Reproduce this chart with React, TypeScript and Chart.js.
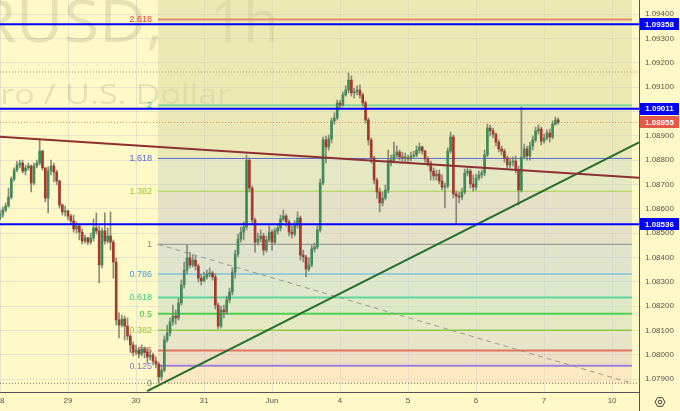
import React, { useEffect, useRef } from 'react';
import { Chart, registerables } from 'chart.js';
Chart.register(...registerables);

// ---------- axis data ----------
const dayTicks = [0, 24, 48, 72, 96, 120, 144, 168, 192, 216];
const dayLabels = ['28', '29', '30', '31', 'Jun', '4', '5', '6', '7', '10'];
const priceTicks = [1.079, 1.08, 1.081, 1.082, 1.083, 1.084, 1.085, 1.086, 1.087, 1.088, 1.089, 1.09, 1.091, 1.092, 1.093, 1.094];
const X_MIN = 0;
const X_MAX = 225.5;
const Y_MIN = 1.07847;
const Y_MAX = 1.09458;

// ---------- hourly candles (EUR/USD 1h) ----------
const firstOpen = 1.08562;
const closes = [
  1.08578, 1.08595, 1.08611, 1.08648, 1.08722, 1.08759, 1.08780, 1.08788, 1.08755, 1.08768, 1.08776, 1.08706,
  1.08776, 1.08788, 1.08837, 1.08768, 1.08644, 1.08755, 1.08776, 1.08751, 1.08714, 1.08615, 1.08587, 1.08591,
  1.08570, 1.08550, 1.08517, 1.08529, 1.08504, 1.08467, 1.08480, 1.08463, 1.08480, 1.08521, 1.08509, 1.08369,
  1.08509, 1.08467, 1.08488, 1.08463, 1.08381, 1.08143, 1.08122, 1.08147, 1.08118, 1.08077, 1.08040, 1.08011,
  1.08019, 1.08003, 1.08024, 1.08011, 1.07991, 1.07999, 1.07974, 1.07962, 1.07909, 1.07937, 1.08061, 1.08089,
  1.08135, 1.08159, 1.08151, 1.08213, 1.08287, 1.08348, 1.08398, 1.08369, 1.08389, 1.08365, 1.08315, 1.08303,
  1.08320, 1.08332, 1.08336, 1.08320, 1.08204, 1.08118, 1.08184, 1.08176, 1.08225, 1.08258, 1.08340, 1.08414,
  1.08476, 1.08504, 1.08525, 1.08800, 1.08685, 1.08554, 1.08463, 1.08476, 1.08488, 1.08430, 1.08472, 1.08504,
  1.08463, 1.08509, 1.08521, 1.08558, 1.08570, 1.08546, 1.08504, 1.08496, 1.08533, 1.08562, 1.08410, 1.08402,
  1.08352, 1.08369, 1.08435, 1.08443, 1.08513, 1.08706, 1.08883, 1.08854, 1.08887, 1.08961, 1.08973, 1.09035,
  1.09026, 1.09068, 1.09088, 1.09129, 1.09076, 1.09080, 1.09088, 1.09068, 1.09035, 1.08965, 1.08883, 1.08809,
  1.08718, 1.08669, 1.08624, 1.08644, 1.08677, 1.08800, 1.08796, 1.08821, 1.08833, 1.08813, 1.08809, 1.08809,
  1.08805, 1.08817, 1.08821, 1.08841, 1.08854, 1.08837, 1.08805, 1.08788, 1.08755, 1.08735, 1.08743, 1.08714,
  1.08689, 1.08694, 1.08837, 1.08895, 1.08661, 1.08652, 1.08648, 1.08669, 1.08747, 1.08755, 1.08702, 1.08689,
  1.08726, 1.08739, 1.08747, 1.08821, 1.08932, 1.08920, 1.08907, 1.08874, 1.08846, 1.08837, 1.08809, 1.08780,
  1.08792, 1.08796, 1.08759, 1.08677, 1.08813, 1.08846, 1.08817, 1.08858, 1.08883, 1.08920, 1.08928, 1.08878,
  1.08891, 1.08911, 1.08895, 1.08948, 1.08965, 1.08955,
];
const highs = [
  1.08595, 1.08607, 1.08624, 1.08685, 1.08731, 1.08768, 1.08796, 1.08800, 1.08800, 1.08780, 1.08788, 1.08780,
  1.08788, 1.08800, 1.08887, 1.08841, 1.08768, 1.08772, 1.08800, 1.08788, 1.08759, 1.08718, 1.08620, 1.08611,
  1.08595, 1.08578, 1.08574, 1.08546, 1.08537, 1.08517, 1.08492, 1.08484, 1.08500, 1.08558, 1.08583, 1.08529,
  1.08521, 1.08583, 1.08521, 1.08587, 1.08472, 1.08398, 1.08172, 1.08163, 1.08159, 1.08151, 1.08085, 1.08052,
  1.08040, 1.08028, 1.08040, 1.08032, 1.08028, 1.08019, 1.08007, 1.07991, 1.07970, 1.07958, 1.08077, 1.08122,
  1.08151, 1.08204, 1.08184, 1.08233, 1.08307, 1.08381, 1.08451, 1.08422, 1.08410, 1.08406, 1.08373, 1.08332,
  1.08340, 1.08348, 1.08357, 1.08344, 1.08332, 1.08213, 1.08200, 1.08204, 1.08241, 1.08274, 1.08357, 1.08430,
  1.08496, 1.08525, 1.08546, 1.08821, 1.08809, 1.08694, 1.08562, 1.08500, 1.08513, 1.08500, 1.08488, 1.08529,
  1.08513, 1.08521, 1.08533, 1.08574, 1.08595, 1.08578, 1.08554, 1.08529, 1.08550, 1.08587, 1.08570, 1.08430,
  1.08410, 1.08398, 1.08451, 1.08459, 1.08529, 1.08722, 1.08895, 1.08899, 1.08903, 1.08973, 1.08994, 1.09047,
  1.09047, 1.09080, 1.09105, 1.09158, 1.09146, 1.09096, 1.09105, 1.09109, 1.09076, 1.09043, 1.08973, 1.08891,
  1.08817, 1.08726, 1.08685, 1.08669, 1.08698, 1.08841, 1.08821, 1.08874, 1.08858, 1.08841, 1.08833, 1.08829,
  1.08821, 1.08833, 1.08837, 1.08858, 1.08870, 1.08858, 1.08841, 1.08813, 1.08796, 1.08768, 1.08759, 1.08759,
  1.08739, 1.08706, 1.08850, 1.08915, 1.08903, 1.08673, 1.08669, 1.08685, 1.08763, 1.08772, 1.08763, 1.08739,
  1.08743, 1.08755, 1.08759, 1.08841, 1.08948, 1.08944, 1.08932, 1.08911, 1.08883, 1.08858, 1.08846, 1.08817,
  1.08809, 1.08813, 1.08817, 1.08776, 1.09018, 1.08866, 1.08858, 1.08874, 1.08899, 1.08936, 1.08944, 1.08936,
  1.08907, 1.08924, 1.08928, 1.08961, 1.08977, 1.08973,
];
const lows = [
  1.08554, 1.08566, 1.08587, 1.08607, 1.08640, 1.08714, 1.08751, 1.08768, 1.08747, 1.08739, 1.08759, 1.08669,
  1.08698, 1.08768, 1.08780, 1.08759, 1.08628, 1.08583, 1.08739, 1.08710, 1.08698, 1.08603, 1.08574, 1.08570,
  1.08554, 1.08537, 1.08504, 1.08500, 1.08472, 1.08455, 1.08459, 1.08451, 1.08455, 1.08467, 1.08496, 1.08295,
  1.08357, 1.08455, 1.08459, 1.08430, 1.08315, 1.08122, 1.08069, 1.08114, 1.08061, 1.08061, 1.08011, 1.07995,
  1.07999, 1.07987, 1.07995, 1.07987, 1.07966, 1.07978, 1.07958, 1.07946, 1.07884, 1.07896, 1.07929, 1.08052,
  1.08077, 1.08122, 1.08126, 1.08143, 1.08204, 1.08274, 1.08332, 1.08357, 1.08361, 1.08348, 1.08299, 1.08287,
  1.08299, 1.08311, 1.08320, 1.08307, 1.08188, 1.08106, 1.08110, 1.08151, 1.08167, 1.08213, 1.08246, 1.08315,
  1.08402, 1.08463, 1.08472, 1.08513, 1.08669, 1.08537, 1.08422, 1.08451, 1.08463, 1.08410, 1.08422, 1.08463,
  1.08430, 1.08455, 1.08496, 1.08509, 1.08550, 1.08529, 1.08488, 1.08480, 1.08488, 1.08521, 1.08389, 1.08381,
  1.08320, 1.08344, 1.08361, 1.08422, 1.08435, 1.08504, 1.08698, 1.08788, 1.08841, 1.08870, 1.08948, 1.08965,
  1.09014, 1.09022, 1.09063, 1.09076, 1.09063, 1.09055, 1.09068, 1.09055, 1.09022, 1.08952, 1.08862, 1.08788,
  1.08702, 1.08644, 1.08587, 1.08611, 1.08636, 1.08665, 1.08776, 1.08788, 1.08809, 1.08800, 1.08788, 1.08792,
  1.08788, 1.08796, 1.08809, 1.08813, 1.08829, 1.08825, 1.08792, 1.08776, 1.08718, 1.08718, 1.08718, 1.08702,
  1.08677, 1.08603, 1.08685, 1.08829, 1.08644, 1.08541, 1.08624, 1.08636, 1.08661, 1.08735, 1.08685, 1.08673,
  1.08677, 1.08718, 1.08726, 1.08735, 1.08813, 1.08899, 1.08891, 1.08858, 1.08833, 1.08821, 1.08792, 1.08763,
  1.08768, 1.08776, 1.08747, 1.08615, 1.08669, 1.08809, 1.08800, 1.08800, 1.08841, 1.08874, 1.08907, 1.08862,
  1.08870, 1.08883, 1.08874, 1.08887, 1.08944, 1.08948,
];

// ---------- drawings ----------
const blueLevels = [1.09358, 1.09011, 1.08536];
const lastPrice = 1.08955;
const prevHighLevel = 1.09162;
const fibStartHour = 55.75;
const fibEndHour = 223.0;
const fibPrice1 = 1.08454;
const fibPrice0 = 1.07883;
const fibRatios = [0, 0.125, 0.236, 0.382, 0.5, 0.618, 0.786, 1, 1.382, 1.618, 2, 2.618];
const fibLabels = ['0', '0.125', '0.236', '0.382', '0.5', '0.618', '0.786', '1', '1.382', '1.618', '2', '2.618'];
const fibLineColors = ['#787b86', '#9c7fd6', '#e2735f', '#92c84a', '#52d052', '#5ed3a0', '#55aee0', '#8d8d8d', '#a8d04e', '#5a6ad2', '#7fdc9c', '#e08a6a'];
const fibLabelColors = ['#8a8a8a', '#8f72d0', '#e0524a', '#a0c43a', '#3fcc3f', '#3cc88e', '#42a0e0', '#8d8d8d', '#a0c83a', '#5868d0', '#2db89a', '#e04a3a'];
const fibLineWidths = [0, 2, 2, 1.5, 2, 2, 1, 1, 1, 1, 2, 2];
const fibBandColors = [
  'rgba(250,215,188,0.5)', 'rgba(222,197,196,0.5)', 'rgba(206,209,200,0.5)', 'rgba(202,217,192,0.5)',
  'rgba(194,217,198,0.5)', 'rgba(190,213,208,0.5)', 'rgba(196,207,212,0.5)', 'rgba(202,201,198,0.5)',
  'rgba(202,215,192,0.5)', 'rgba(212,215,166,0.5)', 'rgba(218,217,160,0.5)', 'rgba(218,217,160,0.5)',
];
const trendRed = [{ x: 0, y: 1.08896 }, { x: 225.5, y: 1.08728 }];
const trendGreen = [{ x: 51.9, y: 1.07851 }, { x: 225.5, y: 1.08873 }];
const titleSymbol = 'EURUSD,';
const titleInterval = '1h';
const titleSub = 'Euro / U.S. Dollar';

const BG = '#fef9c6';
const UP = '#3f8c5a';
const DOWN = '#a53a2c';
const FONT = '"Liberation Sans", Arial, sans-serif';

export default function App() {
  const ref = useRef<HTMLCanvasElement>(null);

  useEffect(() => {
    document.body.style.margin = '0';
    const canvas = ref.current;
    if (!canvas) return;

    const opens = closes.map((c, i) => (i === 0 ? firstOpen : closes[i - 1]));
    const bodies = closes.map((c, i) => ({ x: i, y: [opens[i], c] }));
    const bodyColors = closes.map((c, i) => (c >= opens[i] ? UP : DOWN));
    const wicks = closes.map((c, i) => ({ x: i, y: [lows[i], highs[i]] }));
    const fibPrice = (r: number) => fibPrice0 + r * (fibPrice1 - fibPrice0);
    const seg = (y: number, x0 = fibStartHour, x1 = fibEndHour) => [{ x: x0, y }, { x: x1, y }];

    const line = (data: any[], color: string, width: number, order: number, extra: any = {}) => ({
      type: 'line',
      data,
      borderColor: color,
      borderWidth: width,
      pointRadius: 0,
      fill: false,
      tension: 0,
      order,
      ...extra,
    });

    const datasets: any[] = [];
    fibRatios.forEach((r, i) => {
      datasets.push(
        line(seg(fibPrice(r)), 'rgba(0,0,0,0)', 0, 100, {
          fill: i === 0 ? false : '-1',
          backgroundColor: i === 0 ? 'rgba(0,0,0,0)' : fibBandColors[i - 1],
        })
      );
    });
    datasets.push(line(seg(Y_MAX), 'rgba(0,0,0,0)', 0, 100, { fill: '-1', backgroundColor: fibBandColors[11] }));
    fibRatios.forEach((r, i) => {
      if (i === 0) return;
      datasets.push(line(seg(fibPrice(r)), fibLineColors[i], fibLineWidths[i], 90));
    });
    datasets.push(
      line([{ x: fibStartHour, y: fibPrice1 }, { x: fibEndHour, y: fibPrice0 }], 'rgba(140,140,140,0.85)', 1, 85, {
        borderDash: [5, 4],
      })
    );
    datasets.push(line(seg(fibPrice0, X_MIN, X_MAX), 'rgba(80,80,80,0.8)', 1, 80, { borderDash: [1, 2] }));
    datasets.push(line(seg(prevHighLevel, X_MIN, X_MAX), 'rgba(150,135,100,0.85)', 1, 80, { borderDash: [1, 2] }));
    datasets.push(line(seg(lastPrice, X_MIN, X_MAX), 'rgba(232,120,80,0.85)', 1, 80, { borderDash: [1, 2] }));
    datasets.push({
      type: 'bar',
      data: wicks,
      backgroundColor: 'rgba(120,120,110,0.85)',
      barThickness: 1,
      grouped: false,
      order: 50,
    });
    datasets.push({
      type: 'bar',
      data: bodies,
      backgroundColor: bodyColors,
      barThickness: 2,
      minBarLength: 1,
      grouped: false,
      order: 40,
    });
    datasets.push(line(trendRed, '#8c3030', 2, 20));
    datasets.push(line(trendGreen, '#236d2b', 2, 20));
    blueLevels.forEach((v) => datasets.push(line(seg(v, X_MIN, X_MAX), '#0000ff', 2, 10)));

    const extras = {
      id: 'extras',
      beforeDraw(chart: any) {
        const { ctx, width, height } = chart;
        ctx.save();
        ctx.fillStyle = BG;
        ctx.fillRect(0, 0, width, height);
        ctx.restore();
      },
      beforeDatasetsDraw(chart: any) {
        const { ctx, chartArea } = chart;
        const xs = chart.scales.x;
        const ys = chart.scales.y;
        ctx.save();
        ctx.beginPath();
        ctx.rect(chartArea.left, chartArea.top, chartArea.right - chartArea.left, chartArea.bottom - chartArea.top);
        ctx.clip();
        ctx.fillStyle = 'rgba(110,105,80,0.17)';
        ctx.textBaseline = 'alphabetic';
        ctx.font = '58px "Open Sans", sans-serif';
        ctx.save();
        ctx.translate(163, 42);
        ctx.scale(1.12, 1);
        ctx.textAlign = 'right';
        ctx.fillText(titleSymbol, 0, 0);
        ctx.restore();
        ctx.textAlign = 'left';
        ctx.fillText(titleInterval, 210, 42);
        ctx.font = '28px "Open Sans", sans-serif';
        ctx.save();
        ctx.translate(231, 104);
        ctx.scale(1.22, 1);
        ctx.textAlign = 'right';
        ctx.fillText(titleSub, 0, 0);
        ctx.restore();
        ctx.font = `9px ${FONT}`;
        ctx.textAlign = 'right';
        ctx.textBaseline = 'middle';
        const lx = xs.getPixelForValue(fibStartHour) - 6;
        fibRatios.forEach((r, i) => {
          ctx.fillStyle = fibLabelColors[i];
          ctx.fillText(fibLabels[i], lx, ys.getPixelForValue(fibPrice(r)) + 0.5);
        });
        ctx.restore();
      },
      afterDraw(chart: any) {
        const { ctx, chartArea, height } = chart;
        const ys = chart.scales.y;
        ctx.save();
        ctx.strokeStyle = '#555';
        ctx.lineWidth = 1;
        ctx.beginPath();
        ctx.moveTo(chartArea.right + 0.5, chartArea.bottom);
        ctx.lineTo(chartArea.right + 0.5, height);
        ctx.stroke();
        const boxes: [number, string][] = blueLevels.map((v) => [v, '#0000ff'] as [number, string]);
        boxes.push([lastPrice, '#e35a48']);
        ctx.font = `bold 8px ${FONT}`;
        ctx.textAlign = 'center';
        ctx.textBaseline = 'middle';
        boxes.forEach(([v, c]) => {
          const y = ys.getPixelForValue(v);
          ctx.fillStyle = c;
          ctx.fillRect(chartArea.right + 1, Math.round(y) - 6, 39, 12);
          ctx.fillStyle = '#ffffff';
          ctx.fillText(v.toFixed(5), chartArea.right + 20.5, y + 0.5);
        });
        const cx = chartArea.right + 21;
        const cy = chartArea.bottom + 10;
        ctx.strokeStyle = '#444';
        ctx.lineWidth = 1;
        ctx.beginPath();
        for (let k = 0; k < 6; k++) {
          const a = (Math.PI / 3) * k;
          const px = cx + 5 * Math.cos(a);
          const py = cy + 5 * Math.sin(a);
          if (k === 0) ctx.moveTo(px, py);
          else ctx.lineTo(px, py);
        }
        ctx.closePath();
        ctx.stroke();
        ctx.beginPath();
        ctx.arc(cx, cy, 1.8, 0, Math.PI * 2);
        ctx.stroke();
        ctx.restore();
      },
    };

    const chart = new Chart(canvas, {
      type: 'bar',
      data: { datasets },
      options: {
        animation: false,
        responsive: false,
        devicePixelRatio: 1,
        layout: { padding: 0, autoPadding: false } as any,
        plugins: { legend: { display: false }, tooltip: { enabled: false } },
        font: { family: FONT },
        scales: {
          x: {
            type: 'linear',
            min: X_MIN,
            max: X_MAX,
            offset: false,
            afterBuildTicks: (s: any) => {
              s.ticks = dayTicks.filter((v) => v >= X_MIN && v <= X_MAX).map((v) => ({ value: v }));
            },
            afterFit: (s: any) => {
              s.height = 19;
              s.paddingLeft = 0;
              s.paddingRight = 0;
            },
            ticks: {
              autoSkip: false,
              maxRotation: 0,
              padding: 4,
              color: '#555',
              font: { size: 8, family: FONT },
              callback: (v: any) => {
                const i = dayTicks.indexOf(Number(v));
                return i >= 0 ? dayLabels[i] : '';
              },
            },
            grid: { color: 'rgba(185,190,210,0.35)', drawTicks: false, offset: false },
            border: { display: true, color: '#555', width: 1 },
          } as any,
          y: {
            type: 'linear',
            position: 'right',
            min: Y_MIN,
            max: Y_MAX,
            afterBuildTicks: (s: any) => {
              s.ticks = priceTicks.map((v) => ({ value: v }));
            },
            afterFit: (s: any) => {
              s.width = 41;
              s.paddingTop = 0;
              s.paddingBottom = 0;
            },
            ticks: {
              padding: 6,
              color: '#555',
              font: { size: 8, family: FONT },
              callback: (v: any) => Number(v).toFixed(5),
            },
            grid: { color: 'rgba(185,190,210,0.35)', drawTicks: false },
            border: { display: true, color: '#555', width: 1 },
          } as any,
        },
      } as any,
      plugins: [extras],
    });

    return () => chart.destroy();
  }, []);

  return (
    <div style={{ width: 680, height: 411 }}>
      <canvas ref={ref} width={680} height={411} style={{ display: 'block' }} />
    </div>
  );
}
